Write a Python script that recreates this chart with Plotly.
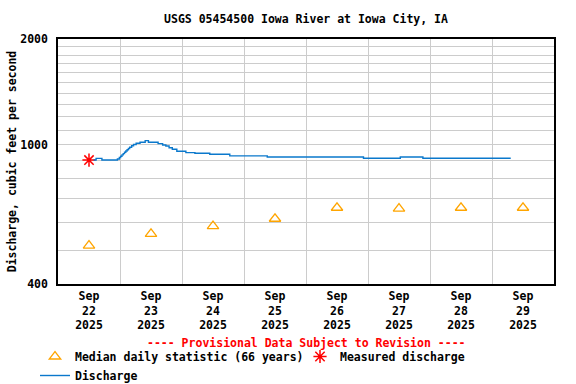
import plotly.graph_objects as go

# ---- data ----
discharge_times = [
    "2025-09-22 13:45", "2025-09-22 14:45", "2025-09-22 17:00", "2025-09-22 23:00",
    "2025-09-22 23:45", "2025-09-23 00:15", "2025-09-23 00:45", "2025-09-23 01:15",
    "2025-09-23 01:45", "2025-09-23 02:15", "2025-09-23 02:45", "2025-09-23 03:15",
    "2025-09-23 03:45", "2025-09-23 04:30", "2025-09-23 05:15", "2025-09-23 06:15",
    "2025-09-23 07:45", "2025-09-23 09:45", "2025-09-23 11:00", "2025-09-23 14:45",
    "2025-09-23 16:30", "2025-09-23 17:45", "2025-09-23 19:00", "2025-09-23 20:15",
    "2025-09-23 22:00", "2025-09-24 01:30", "2025-09-24 05:00", "2025-09-24 10:45",
    "2025-09-24 18:30", "2025-09-25 09:00", "2025-09-26 22:15", "2025-09-27 12:30",
    "2025-09-27 21:15", "2025-09-29 07:15",
]
discharge_values = [
    903, 913, 903, 909,
    918, 926, 934, 942,
    950, 958, 966, 974,
    982, 992, 1000, 1008,
    1015, 1026, 1015, 1006,
    997, 990, 979, 969,
    957, 948, 944, 938,
    928, 921, 914, 921,
    914, 914,
]

median_dates = ["2025-09-22 12:00", "2025-09-23 12:00", "2025-09-24 12:00", "2025-09-25 12:00",
                "2025-09-26 12:00", "2025-09-27 12:00", "2025-09-28 12:00", "2025-09-29 12:00"]
median_values = [515, 556, 585, 614, 660, 656, 660, 660]

measured_times = ["2025-09-22 12:00"]
measured_values = [903]

x_tick_vals = median_dates
x_tick_text = ["Sep<br>22<br>2025", "Sep<br>23<br>2025", "Sep<br>24<br>2025", "Sep<br>25<br>2025",
               "Sep<br>26<br>2025", "Sep<br>27<br>2025", "Sep<br>28<br>2025", "Sep<br>29<br>2025"]
y_tick_vals = [400, 1000, 2000]
y_tick_text = ["400", "1000", "2000"]
y_grid_vals = [500, 600, 700, 800, 900, 1100, 1200, 1300, 1400, 1500, 1600, 1700, 1800, 1900]

FONT = dict(family="DejaVu Sans Mono", size=11.5, color="black", weight="bold")

fig = go.Figure()
fig.add_trace(go.Scatter(
    x=median_dates, y=median_values, mode="markers",
    name="Median daily statistic (66 years)",
    marker=dict(symbol="triangle-up-open", size=10, color="#FFA500", line=dict(width=1.3, color="#FFA500")),
))
fig.add_trace(go.Scatter(
    x=measured_times, y=measured_values, mode="markers",
    name="Measured discharge",
    marker=dict(symbol="asterisk-open", size=11, color="#FF0000", line=dict(width=1.5, color="#FF0000")),
))
fig.add_trace(go.Scatter(
    x=discharge_times, y=discharge_values, mode="lines",
    name="Discharge", line=dict(color="#0A78CC", width=1.4, shape="hv"),
))

# plot area: x 58..554, y 39..284 (pixels)
fig.update_layout(
    width=576, height=384,
    margin=dict(l=58, r=22, t=39, b=100, autoexpand=False),
    paper_bgcolor="white", plot_bgcolor="white",
    font=FONT,
    title=dict(text="USGS 05454500 Iowa River at Iowa City, IA", x=0.5, xref="paper",
               y=1 - 19 / 384, yref="container", yanchor="middle", font=FONT),
    showlegend=True,
    legend=dict(orientation="h", xref="paper", yref="paper",
                x=(35 - 58) / 496, y=(284 - 342) / 245, xanchor="left", yanchor="top",
                entrywidth=220, entrywidthmode="pixels",
                font=FONT, traceorder="normal", itemwidth=30, tracegroupgap=0,
                bgcolor="rgba(0,0,0,0)"),
    annotations=[dict(text="---- Provisional Data Subject to Revision ----",
                      xref="paper", yref="paper", x=0.5, y=(284 - 343) / 245,
                      xanchor="center", yanchor="middle", showarrow=False,
                      font=dict(family="DejaVu Sans Mono", size=11.5, color="#FF0000", weight="bold"))],
)

fig.update_xaxes(
    type="date", range=["2025-09-22 00:00", "2025-09-30 00:00"],
    tickmode="array", tickvals=x_tick_vals, ticktext=x_tick_text,
    showgrid=False, ticks="", showline=True, linecolor="black", linewidth=1.5, mirror=True,
    zeroline=False, tickangle=0, tickfont=FONT, automargin=False,
    minor=dict(tickmode="linear", tick0="2025-09-22", dtick=86400000, showgrid=True,
               gridcolor="#CCCCCC", gridwidth=1, ticks=""),
)
fig.update_yaxes(
    type="log", range=[2.60206, 3.30103],
    tickmode="array", tickvals=y_tick_vals, ticktext=y_tick_text,
    showgrid=True, gridcolor="#CCCCCC", gridwidth=1, ticks="",
    showline=True, linecolor="black", linewidth=1.5, mirror=True, zeroline=False,
    tickfont=FONT, ticklabelstandoff=6, automargin=False,
    title=dict(text="Discharge, cubic feet per second", font=FONT, standoff=1),
    minor=dict(tickmode="array", tickvals=y_grid_vals, showgrid=True,
               gridcolor="#CCCCCC", gridwidth=1, ticks=""),
)

fig.write_html("out.html", config={"displayModeBar": False},
               post_script="document.body.style.margin='0';")
